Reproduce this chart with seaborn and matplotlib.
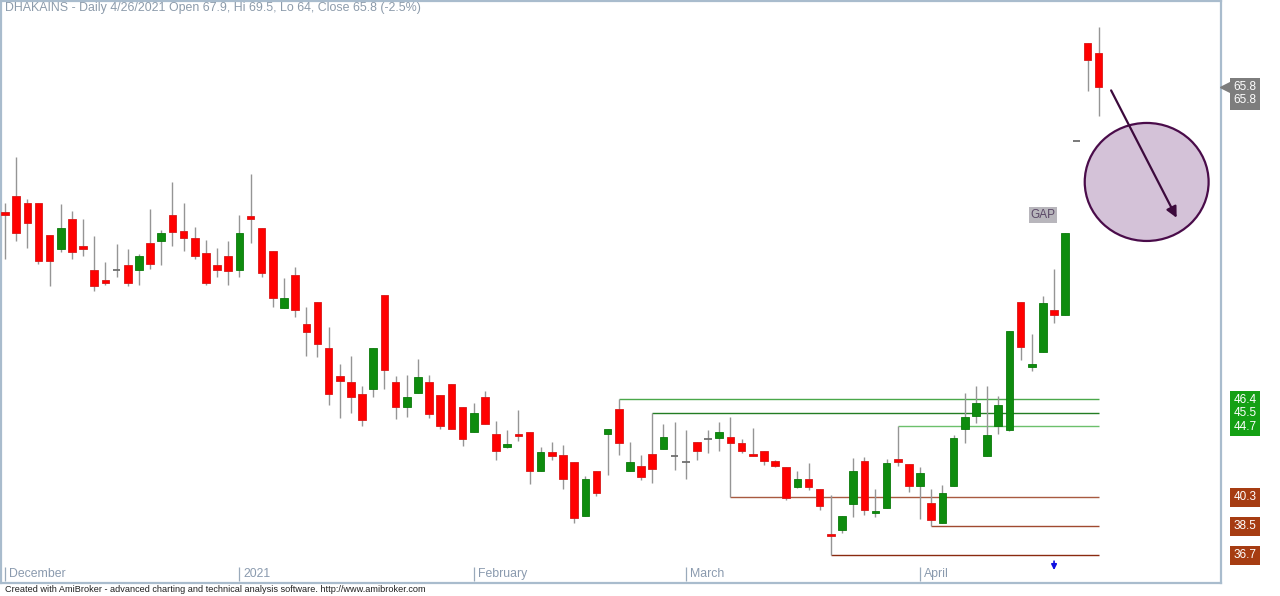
import numpy as np
import matplotlib
matplotlib.use("Agg")
import matplotlib.pyplot as plt
import matplotlib.transforms as mtransforms
from matplotlib.patches import Ellipse
import seaborn as sns

# DHAKAINS daily bars, Dec 2020 - 26 Apr 2021
opens = [58.0, 59.0, 58.6, 58.6, 56.6, 55.7, 57.6, 55.9, 54.4, 53.8,
         54.4, 54.7, 54.4, 56.1, 56.2, 57.8, 56.85, 56.4, 55.45, 54.7,
         55.3, 54.4, 57.75, 57.0, 55.6, 52.05, 54.1, 51.05, 52.4, 49.55,
         47.85, 47.45, 46.7, 47.0, 52.85, 47.45, 45.9, 46.8, 47.45, 46.65,
         47.35, 45.9, 44.35, 46.55, 44.25, 43.4, 44.25, 44.35, 41.9, 43.1,
         42.95, 42.5, 39.15, 41.95, 44.2, 45.75, 41.95, 42.25, 43.0, 43.3,
         42.85, 42.5, 43.75, 43.9, 43.95, 44.05, 43.65, 43.0, 43.15, 42.55,
         42.2, 40.95, 41.45, 40.8, 38.0, 38.25, 39.9, 42.55, 39.3, 39.6,
         42.65, 42.35, 41.0, 39.95, 38.7, 41.0, 44.55, 45.35, 42.85, 44.7,
         44.5, 52.4, 48.4, 49.3, 51.95, 51.6, 62.4, 68.5, 67.9]
highs = [58.6, 61.4, 58.8, 58.6, 56.6, 58.5, 58.1, 57.6, 56.5, 54.9,
         56.0, 55.7, 55.4, 58.2, 56.9, 59.9, 58.6, 57.1, 56.3, 55.8,
         56.2, 57.8, 60.4, 57.0, 55.6, 53.9, 54.6, 52.1, 52.4, 50.9,
         48.6, 49.1, 47.2, 49.55, 52.85, 47.8, 47.9, 48.9, 47.9, 46.65,
         47.35, 45.9, 46.15, 46.9, 45.05, 44.45, 45.7, 44.35, 43.4, 43.7,
         43.55, 42.5, 41.6, 41.95, 44.55, 46.4, 43.7, 42.9, 45.5, 44.85,
         44.95, 44.5, 43.75, 44.45, 44.95, 45.25, 43.9, 44.6, 43.15, 42.6,
         42.2, 41.95, 42.45, 40.8, 40.45, 39.15, 42.75, 42.8, 40.8, 42.7,
         44.7, 42.35, 42.15, 40.8, 41.05, 44.15, 46.75, 47.2, 47.2, 46.6,
         50.65, 52.4, 50.45, 52.8, 54.5, 56.7, 62.4, 68.5, 69.5]
lows = [55.1, 56.2, 55.8, 54.8, 53.4, 55.5, 55.1, 55.3, 53.1, 53.5,
        54.0, 53.4, 53.5, 54.5, 54.7, 55.9, 55.6, 55.1, 53.5, 54.0,
        53.5, 54.0, 56.1, 54.0, 52.1, 52.05, 51.5, 49.1, 49.0, 46.0,
        45.2, 45.5, 44.7, 46.5, 47.05, 45.15, 45.3, 46.8, 45.2, 44.55,
        44.55, 43.5, 44.35, 44.85, 42.6, 43.35, 43.8, 41.15, 41.9, 42.6,
        40.8, 38.7, 39.15, 40.35, 41.65, 42.9, 41.95, 41.35, 41.2, 43.3,
        42.0, 41.45, 42.6, 43.05, 43.15, 40.3, 43.05, 42.85, 42.3, 42.2,
        40.15, 40.85, 40.75, 39.5, 36.7, 38.1, 39.05, 39.2, 39.05, 39.6,
        42.25, 40.65, 38.95, 38.5, 38.7, 41.0, 43.65, 44.9, 42.85, 44.25,
        44.4, 48.85, 48.15, 49.3, 51.15, 51.6, 62.4, 65.5, 64.0]
closes = [57.8, 56.7, 57.3, 55.0, 55.0, 57.0, 55.5, 55.7, 53.4, 53.6,
          54.4, 53.6, 55.3, 54.8, 56.7, 56.8, 56.4, 55.3, 53.6, 54.4,
          54.35, 56.7, 57.55, 54.25, 52.7, 52.65, 51.9, 50.55, 49.8, 46.7,
          47.5, 46.5, 45.1, 49.55, 48.2, 45.9, 46.55, 47.75, 45.45, 44.75,
          44.55, 43.9, 45.55, 44.85, 43.15, 43.6, 44.1, 41.9, 43.1, 42.85,
          41.4, 39.0, 41.4, 40.55, 44.55, 43.65, 42.5, 41.55, 42.05, 44.05,
          42.85, 42.5, 43.15, 43.9, 44.35, 43.65, 43.15, 42.85, 42.55, 42.25,
          40.25, 41.45, 40.95, 39.75, 37.9, 39.15, 41.95, 39.5, 39.45, 42.45,
          42.5, 41.0, 41.8, 38.9, 40.55, 43.95, 45.25, 46.15, 44.15, 46.05,
          50.65, 49.65, 48.55, 52.35, 51.6, 56.7, 62.4, 67.45, 65.8]

month_labels = ["December", "2021", "February", "March", "April"]
month_start = [0, 21, 42, 61, 82]

# support / resistance levels and the bar they start from
res_levels = [46.4, 45.5, 44.7]
res_start = [55, 58, 80]
res_colors = ["#4aa84a", "#237d23", "#6cc06c"]
sup_levels = [40.3, 38.5, 36.7]
sup_start = [65, 83, 74]
sup_colors = ["#a85a40", "#a04a30", "#8a2a10"]

signal_bar = 94

title = "DHAKAINS - Daily 4/26/2021 Open 67.9, Hi 69.5, Lo 64, Close 65.8 (-2.5%)"

sns.set_theme(style="white")
plt.rcParams['font.family'] = ['Liberation Sans', 'DejaVu Sans']

o = np.array(opens)
h = np.array(highs)
l = np.array(lows)
c = np.array(closes)
idx = np.arange(len(o))
n_last = idx[-1]

fig = plt.figure(figsize=(12.8, 5.96), dpi=100)
ax = fig.add_axes([1 / 1280, 13 / 596, 1220 / 1280, 582 / 596])
ax.set_xlim(-0.358, 108.96)
ax.set_ylim(34.97, 71.12)

# wicks
ax.vlines(idx, l, h, color="#959595", lw=1.0, zorder=2)

# bodies
w = 0.68
up = c > o
dn = c < o
eq = c == o
ax.bar(idx[up], (c - o)[up], bottom=o[up], width=w, color="#0e8c0e",
       edgecolor="#0a7a0a", linewidth=0.6, zorder=3)
ax.bar(idx[dn], (o - c)[dn], bottom=c[dn], width=w, color="#ff0000",
       edgecolor="#d81818", linewidth=0.6, zorder=3)
ax.hlines(o[eq], idx[eq] - w / 2, idx[eq] + w / 2, color="#6e6e6e", lw=1.3, zorder=3)

# level lines
for val, st, col in zip(res_levels + sup_levels, res_start + sup_start, res_colors + sup_colors):
    ax.hlines(val, st, n_last, color=col, lw=1.0, zorder=1)

# GAP label
ax.text(93.0, 57.83, "GAP", ha="center", va="center", fontsize=8.5, color="#5a4866",
        bbox=dict(boxstyle="square,pad=0.15", facecolor="#b8b6bc", edgecolor="none"), zorder=4)

# highlighted ellipse with arrow
ax.add_patch(Ellipse((102.3, 59.88), width=11.1, height=7.33, facecolor="#d4c2d8",
                     edgecolor="#4a0c4a", lw=1.6, zorder=4))
ax.annotate("", xy=(105.1, 57.5), xytext=(99.0, 65.72),
            arrowprops=dict(arrowstyle="-|>", color="#3c0a3c", lw=1.6, mutation_scale=16),
            zorder=5)

# signal arrow on the date axis
ax.annotate("", xy=(signal_bar, 35.6), xytext=(signal_bar, 36.5),
            arrowprops=dict(arrowstyle="-|>", color="#1010e0", lw=1.2, mutation_scale=8),
            zorder=5)

# month labels on the bottom strip
bt = mtransforms.blended_transform_factory(ax.transData, ax.transAxes)
ax.vlines(month_start, 0.004, 0.028, color="#9aaabb", lw=0.9, transform=bt)
for lab, pos in zip(month_labels, month_start):
    ax.text(pos + 0.35, 0.016, lab, transform=bt, ha="left", va="center",
            fontsize=8.8, color="#8a9aae")

# title
ax.text(0.003, 0.988, title, transform=ax.transAxes, ha="left", va="center",
        fontsize=8.9, color="#8c9bab")

# price labels on the right
rt = mtransforms.blended_transform_factory(ax.transAxes, ax.transData)
lx = 1.0197
ax.plot([1.0035], [c[-1]], marker="<", markersize=7, color="#7d7d7d", transform=rt,
        clip_on=False, zorder=5)
ax.text(lx, c[-1] - 0.45, f"{c[-1]:.1f}\n{c[-1]:.1f}", transform=rt, ha="center",
        va="center", fontsize=8.5, color="white", linespacing=1.12, clip_on=False,
        bbox=dict(boxstyle="square,pad=0.3", facecolor="#7d7d7d", edgecolor="none"))
ax.text(lx, res_levels[1], "\n".join(f"{v:.1f}" for v in res_levels), transform=rt,
        ha="center", va="center", fontsize=8.5, color="white", linespacing=1.12,
        clip_on=False,
        bbox=dict(boxstyle="square,pad=0.3", facecolor="#14a014", edgecolor="none"))
for val in sup_levels:
    ax.text(lx, val, f"{val:.1f}", transform=rt, ha="center", va="center", fontsize=8.5,
            color="white", clip_on=False,
            bbox=dict(boxstyle="square,pad=0.3", facecolor="#a63c12", edgecolor="none"))

ax.set_xticks([])
ax.set_yticks([])
for sp in ax.spines.values():
    sp.set_color("#a9bccd")
    sp.set_linewidth(1.6)

fig.text(5 / 1280, 1 - 590 / 596, "Created with AmiBroker - advanced charting and technical "
         "analysis software. http://www.amibroker.com", ha="left", va="center",
         fontsize=6.6, color="#202020")

fig.savefig("out.png", dpi=100)
